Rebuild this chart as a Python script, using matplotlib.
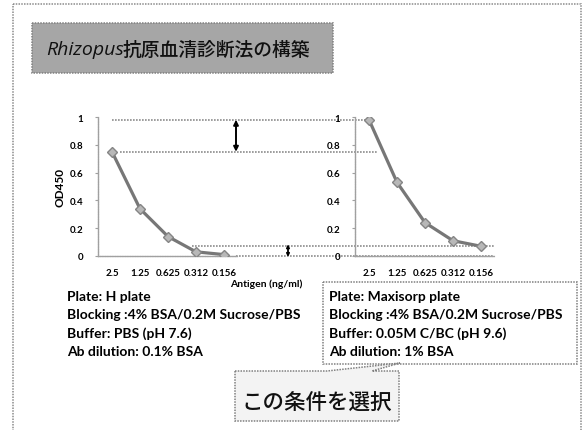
import matplotlib
matplotlib.use("Agg")
import matplotlib.pyplot as plt
from matplotlib.patches import Rectangle, Polygon

plt.rcParams['font.family'] = ['Lato', 'Noto Sans CJK JP', 'DejaVu Sans']

# ---- data ----
antigen = ["2.5", "1.25", "0.625", "0.312", "0.156"]
od_h_plate = [0.75, 0.34, 0.14, 0.03, 0.01]
od_maxisorp = [0.98, 0.53, 0.24, 0.11, 0.07]
y_ticks = [0, 0.2, 0.4, 0.6, 0.8, 1.0]
y_tick_labels = ["0", "0.2", "0.4", "0.6", "0.8", "1"]

title_latin = "Rhizopus"
title_jp = "抗原血清診断法の構築"
left_notes = ["Plate: H plate",
              "Blocking :4% BSA/0.2M Sucrose/PBS",
              "Buffer: PBS (pH 7.6)",
              "Ab dilution: 0.1% BSA"]
right_notes = ["Plate: Maxisorp plate",
               "Blocking :4% BSA/0.2M Sucrose/PBS",
               "Buffer: 0.05M C/BC (pH 9.6)",
               "Ab dilution: 1% BSA"]
callout_text = "この条件を選択"

W, H = 587, 431
fig = plt.figure(figsize=(W / 100, H / 100), dpi=100)
fig.patch.set_facecolor("white")


def px_axes(x0, y_top, x1, y_bot):
    return fig.add_axes([x0 / W, 1 - y_bot / H, (x1 - x0) / W, (y_bot - y_top) / H])


DOT = (0, (1, 0.8))
DOT_COLOR = "#8c8c8c"


def style_chart(ax, values):
    x = range(len(values))
    ax.plot(x, values, color="#777777", lw=2.3, marker="D", ms=5.5,
            mfc="#b8b8b8", mec="#858585", mew=1.0, zorder=3)
    ax.set_xlim(-0.5, len(values) - 0.5)
    ax.set_ylim(0, 1)
    ax.set_xticks(list(x))
    ax.set_xticklabels(antigen, fontsize=7, fontweight="bold")
    ax.set_yticks(y_ticks)
    ax.set_yticklabels(y_tick_labels, fontsize=7, fontweight="bold")
    for s in ("top", "right"):
        ax.spines[s].set_visible(False)
    for s in ("left", "bottom"):
        ax.spines[s].set_color("#a0a0a0")
        ax.spines[s].set_linestyle(DOT)
        ax.spines[s].set_linewidth(1.0)
    ax.tick_params(axis="y", length=2.5, color="#a0a0a0", pad=8)
    ax.tick_params(axis="x", length=0, pad=9)
    ax.patch.set_alpha(0)


ax_l = px_axes(98, 118, 238, 257)
style_chart(ax_l, od_h_plate)
ax_l.set_ylabel("OD450", fontsize=8.5, fontweight="bold", labelpad=3)

ax_r = px_axes(355, 118, 495, 257)
style_chart(ax_r, od_maxisorp)

# overlay in pixel coordinates for frames, guides and text
ov = fig.add_axes([0, 0, 1, 1], zorder=-1)
ov.set_xlim(0, W)
ov.set_ylim(H, 0)
ov.axis("off")


def level_px(ax, v):
    return H - ax.transData.transform((0, v))[1]


# page frame
ov.add_patch(Rectangle((13, 5), 568, 440, fill=False, ec=DOT_COLOR, lw=1.1, ls=DOT))

# title banner
ov.add_patch(Rectangle((32, 24), 301, 50, fc="#a6a6a6", ec="#808080", lw=1.1, ls=DOT))
ov.text(46, 50, title_latin, fontsize=14, style="italic", family="Open Sans",
        va="center", ha="left", color="#111111")
ov.text(123, 50, title_jp, fontsize=13.5, family="Noto Sans CJK JP",
        fontweight="medium", va="center", ha="left", color="#111111")

# comparison guide lines
gl = dict(color=DOT_COLOR, lw=1.2, ls=DOT)
y_top = level_px(ax_r, od_maxisorp[0])
y_hi = level_px(ax_l, od_h_plate[0])
y_lo = level_px(ax_r, od_maxisorp[-1])
y_zero = level_px(ax_l, 0)
ov.plot([112, 366], [y_top, y_top], **gl)
ov.plot([120, 378], [y_hi, y_hi], **gl)
ov.plot([192, 494], [y_lo, y_lo], **gl)
ov.plot([236, 494], [y_zero, y_zero], **gl)

arrow = dict(arrowstyle="<|-|>", color="black", lw=1.4, mutation_scale=7,
             shrinkA=0, shrinkB=0)
ov.annotate("", xy=(236, y_top), xytext=(236, y_hi), arrowprops=arrow)
small_arrow = dict(arrowstyle="<|-|>", color="black", lw=1.3, mutation_scale=4,
                   shrinkA=0, shrinkB=0)
ov.annotate("", xy=(288, y_lo - 2), xytext=(288, y_zero + 1), arrowprops=small_arrow)

ov.text(266, 284, "Antigen (ng/ml)", fontsize=7.5, fontweight="bold",
        ha="center", va="center")

# condition notes
line_y = [297, 315.5, 333.5, 352]
for t, y in zip(left_notes, line_y):
    ov.text(67, y, t, fontsize=10, fontweight="bold", ha="left", va="center")

ov.add_patch(Rectangle((323, 283), 254, 82, fc="white", ec="#808080", lw=1.1, ls=DOT))
for t, y in zip(right_notes, line_y):
    ov.text(329, y, t, fontsize=10, fontweight="bold", ha="left", va="center")

# callout bubble
bubble = [(235, 372), (327, 372), (400, 364), (372, 372), (399, 372),
          (399, 422), (235, 422)]
ov.add_patch(Polygon(bubble, closed=True, fc="#f3f3f3", ec="#808080", lw=1.1, ls=DOT))
ov.text(317, 404, callout_text, fontsize=15.5, family="Noto Sans CJK JP",
        fontweight="medium", ha="center", va="center", color="#111111")

fig.savefig("out.png", dpi=100)
